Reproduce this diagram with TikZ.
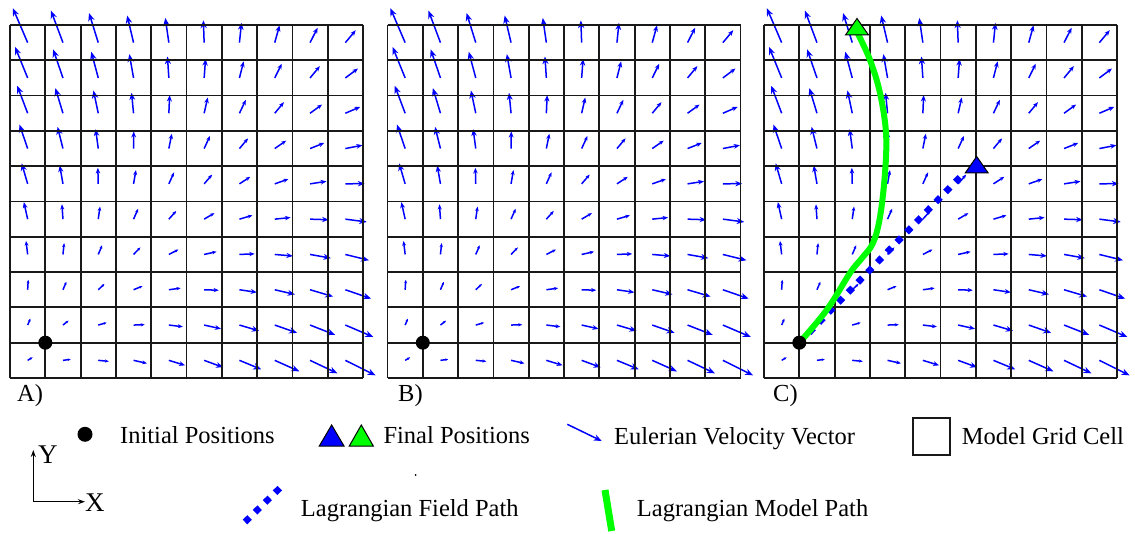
\documentclass[tikz,border=0pt]{standalone}
\usepackage{fontspec}
\setmainfont{Liberation Serif}
\newfontfamily\lserif{Liberation Serif}
\usetikzlibrary{arrows.meta}
\definecolor{vblue}{RGB}{0,0,255}
\definecolor{pgreen}{RGB}{0,255,0}
\begin{document}
\begin{tikzpicture}[x=1pt,y=-1pt,
  gridline/.style={line width=1.8pt, draw=black!90},
  vec/.style={draw=vblue, line width=1.5pt},
  lbl/.style={anchor=base west, inner sep=0pt, font=\lserif\fontsize{24.5}{29}\selectfont},
  axlbl/.style={anchor=base west, inner sep=0pt, font=\lserif\fontsize{27}{30}\selectfont},
  startdot/.style={fill=black},
  fieldpath/.style={draw=vblue, line width=6.5pt, dash pattern=on 6.5pt off 7.5pt},
  modelpath/.style={draw=pgreen, line width=6pt, line cap=round, line join=round},
  tri/.style={draw=black, line width=1pt, line join=miter}
]
\useasboundingbox (0,0) rectangle (1135,534);

% ---- three grids with velocity vectors ----
\foreach \gx in {10,387.5,764} {
  \foreach \i in {0,...,9} {
    \foreach \j in {0,...,9} {
      \pgfmathsetmacro\u{5+2.8*\i-2.2*\j}
      \pgfmathsetmacro\w{-(3-2*\i+3.5*\j-0.05*\i*\j)}
      \pgfmathsetmacro\L{veclen(\u,\w)}
      \pgfmathsetmacro\tl{min(8,max(3,0.35*\L))}
      \pgfmathsetmacro\tw{0.8*\tl}
      \draw[vec, -{Stealth[length=\tl pt, width=\tw pt]}]
        (\gx+\i*35.3+17.65, 25+9*35.3-\j*35.3+17.65) -- ++(\u,\w);
    }
  }
  \foreach \k in {0,...,10} {
    \draw[gridline] (\gx+\k*35.3, 25) -- (\gx+\k*35.3, 378);
    \draw[gridline] (\gx, 25+\k*35.3) -- (\gx+353, 25+\k*35.3);
  }
}

% ---- paths in C ----
\coordinate (c0) at (799.3,342.7);
\coordinate (cblue) at (965,172);
\draw[fieldpath] (c0) -- (cblue);
\draw[modelpath] plot[smooth, tension=0.6] coordinates {(799.3,342.7) (826.7,310) (850,273) (862,258) (873,243) (880,217) (885,173) (886,133) (880,93) (870,60) (858,34)};

% ---- start dots ----
\fill[startdot] (45.3,342.7) circle (7);
\fill[startdot] (422.8,342.7) circle (7);
\fill[startdot] (c0) circle (7);

% ---- final triangles in C ----
\filldraw[tri, fill=vblue] (965.2,173) -- (976.7,156.5) -- (988.2,173) -- cycle;
\filldraw[tri, fill=pgreen] (845.5,35) -- (857,18.5) -- (868.5,35) -- cycle;

% ---- panel labels ----
\node[lbl] (la) at (17,402) {A)};
\node[lbl] (lb) at (398,402) {B)};
\node[lbl] (lc) at (773,402) {C)};

% ---- legend ----
\fill[startdot] (85,434.3) circle (7.5);
\node[lbl] (tinit) at (120,443.5) {Initial Positions};

\filldraw[tri, fill=vblue] (319.3,446) -- (331.65,425) -- (344,446) -- cycle;
\filldraw[tri, fill=pgreen] (349.3,446) -- (361.3,425) -- (373.3,446) -- cycle;
\node[lbl] (tfinal) at (383.3,443.5) {Final Positions};

\fill[black] (415.7,475) circle (1);

\coordinate (ea) at (567.3,424.3);
\coordinate (eb) at (601.7,441);
\draw[vec, -{Stealth[length=8pt, width=6.4pt]}] (ea) -- (eb);
\node[lbl] (teul) at (614,444.5) {Eulerian Velocity Vector};

\draw[gridline] (913.3,418.3) rectangle (950,455);
\node[lbl] (tcell) at (961.7,444.5) {Model Grid Cell};

\coordinate (fa) at (245,522);
\coordinate (fb) at (283,485);
\draw[fieldpath] (fa) -- (fb);
\node[lbl] (tfield) at (300.7,516.7) {Lagrangian Field Path};

\coordinate (ma) at (605,490);
\coordinate (mb) at (611.7,531);
\draw[draw=pgreen, line width=7pt] (ma) -- (mb);
\node[lbl] (tmodel) at (636.7,516.7) {Lagrangian Model Path};

% ---- axes ----
\coordinate (o) at (33.3,501.7);
\coordinate (ytip) at (33.3,450);
\coordinate (xtip) at (85,501.7);
\draw[line width=1.4pt, -{Stealth[length=7pt, width=5pt]}] (o) -- (ytip);
\draw[line width=1.4pt, -{Stealth[length=7pt, width=5pt]}] (o) -- (xtip);
\node[axlbl] (ty) at (38,463) {Y};
\node[axlbl] (tx) at (85,511) {X};
\end{tikzpicture}
\end{document}
